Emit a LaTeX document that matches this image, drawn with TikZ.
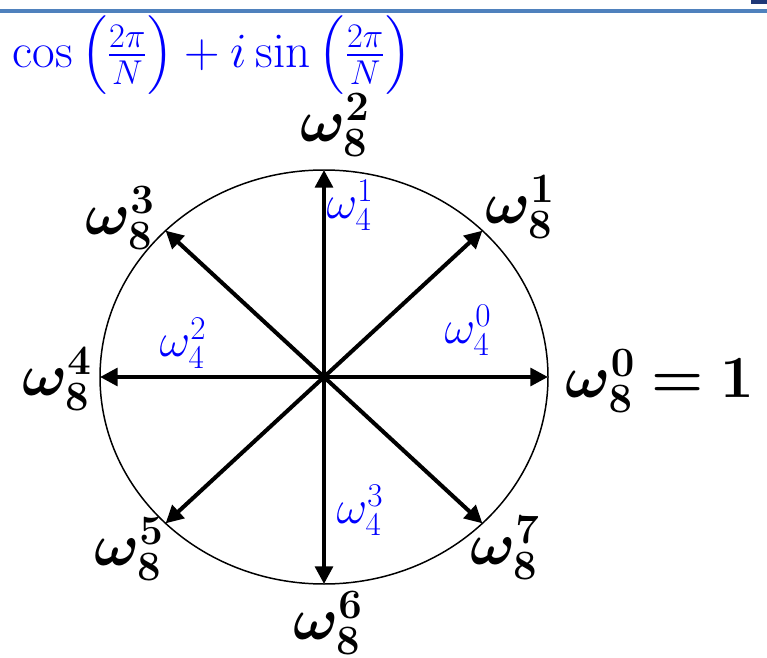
\RequirePackage{fix-cm}
\documentclass[tikz,border=0pt]{standalone}
\usepackage{amsmath}
\usepackage{bm}
\usetikzlibrary{arrows.meta}

\definecolor{penblue}{RGB}{0,0,255}
\definecolor{barblue}{RGB}{79,129,189}
\definecolor{barnavy}{RGB}{31,56,120}

\tikzset{
  root/.style={font=\fontsize{34}{40}\selectfont, inner sep=0pt},
  spoke/.style={line width=2.3pt, -{Triangle[length=10pt,width=10pt]}},
  note/.style={text=penblue, font=\fontsize{27}{32}\selectfont, inner sep=0pt},
}

\newcommand{\wroot}[1]{$\bm{\omega}_{\mathbf{8}}^{\mathbf{#1}}$}

\begin{document}
\begin{tikzpicture}[x=0.02cm,y=-0.02cm]
\useasboundingbox (0,0) rectangle (767,658);
% slide bar at the top
\fill[barnavy] (751,0) rectangle (767,4);
\draw[barblue, line width=1.9pt] (0,11) -- (767,11);

% unit circle and the eight roots
\coordinate (o) at (324,377);
\draw[line width=0.85pt] (o) ellipse [x radius=224, y radius=207];
\foreach \k in {0,...,7}
  \path (o) ++(-45*\k:224 and 207) coordinate (p\k);
\foreach \k in {0,...,7}
  \draw[spoke] (o) -- (p\k);

\node[root] (w0) at (660,381) {$\bm{\omega}_{\mathbf{8}}^{\mathbf{0}}\bm{=}\mathbf{1}$};
\node[root] (w1) at (520,207) {\wroot{1}};
\node[root] (w2) at (335,125) {\wroot{2}};
\node[root] (w3) at (120,218) {\wroot{3}};
\node[root] (w4) at (57,379) {\wroot{4}};
\node[root] (w5) at (129,549) {\wroot{5}};
\node[root] (w6) at (328,623) {\wroot{6}};
\node[root] (w7) at (505,548) {\wroot{7}};

% handwritten notes
\node[note, font=\fontsize{28}{32}\selectfont] (euler) at (212,55)
  {$\cos\left(\frac{2\pi}{N}\right)+i\sin\left(\frac{2\pi}{N}\right)$};
\node[note] (n0) at (468,330) {$\omega_4^{0}$};
\node[note] (n1) at (350,205) {$\omega_4^{1}$};
\node[note] (n2) at (183,343) {$\omega_4^{2}$};
\node[note] (n3) at (360,510) {$\omega_4^{3}$};
\end{tikzpicture}
\end{document}
